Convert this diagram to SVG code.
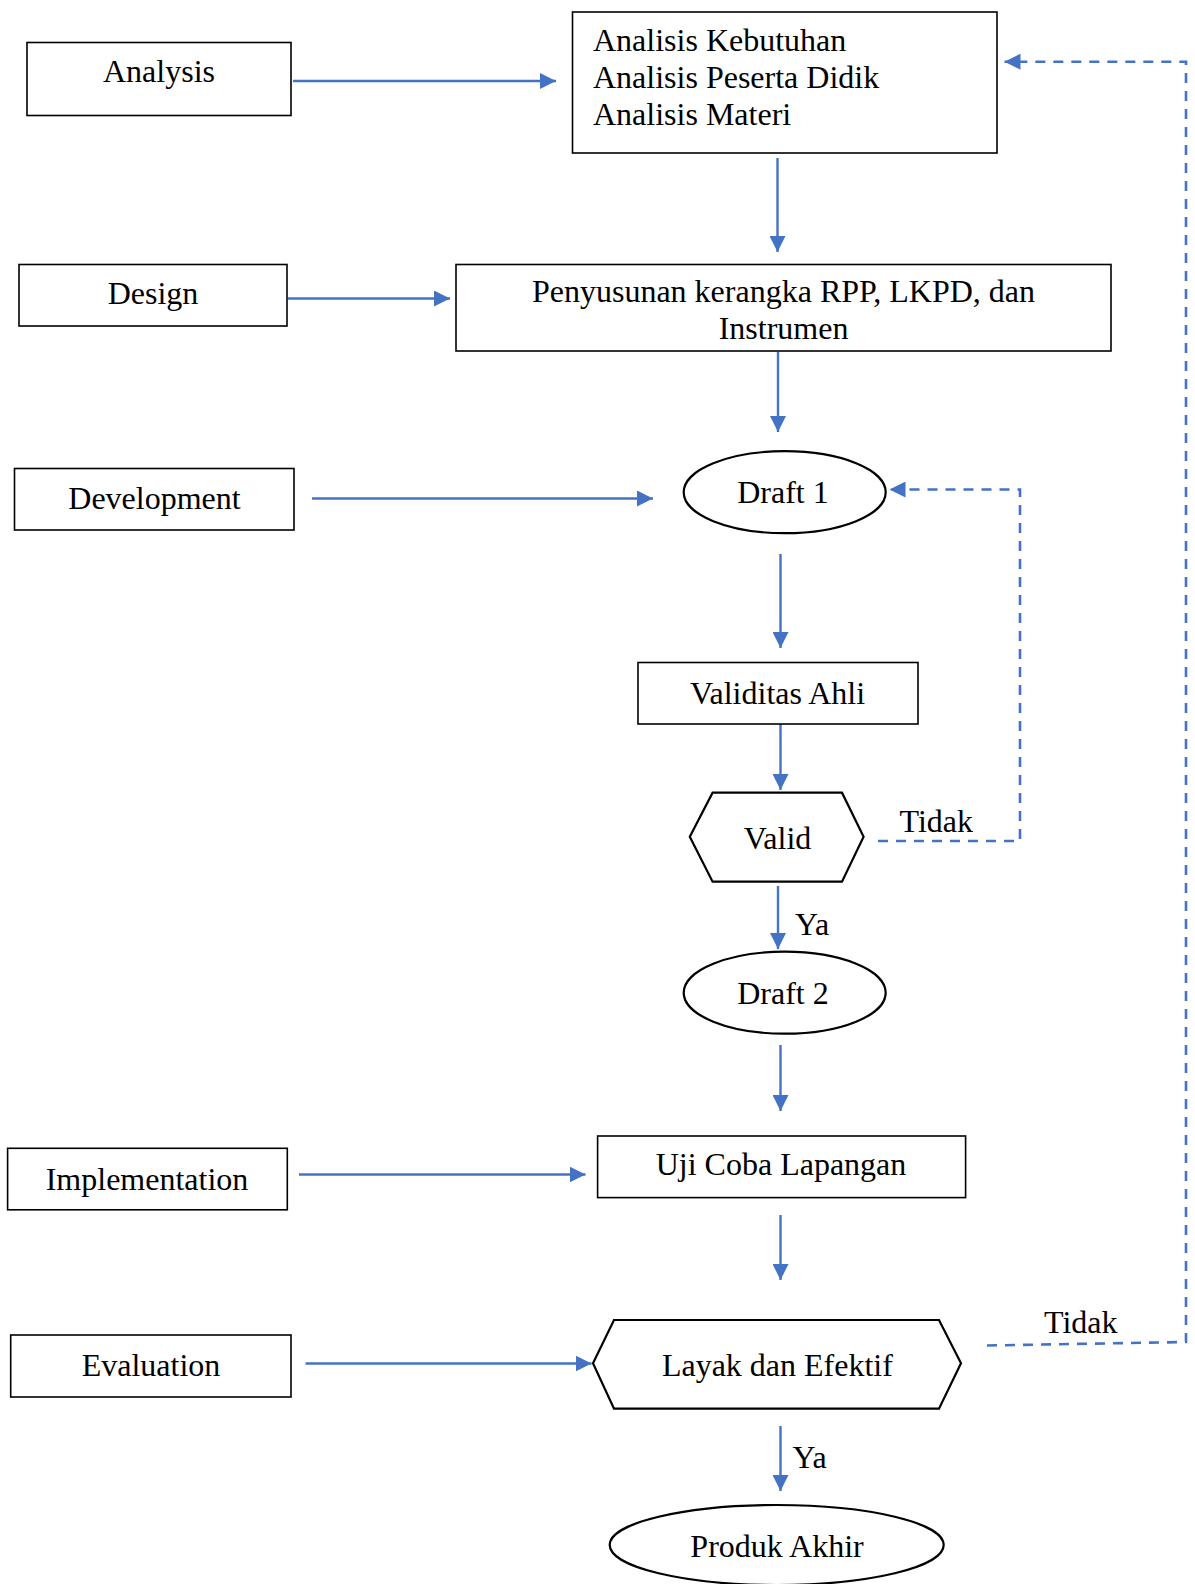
<svg xmlns="http://www.w3.org/2000/svg" width="1195" height="1584" viewBox="0 0 1195 1584">
<style>
.box{fill:#fff;stroke:#000;stroke-width:1.6}
.shape{fill:#fff;stroke:#000;stroke-width:2.2}
.t{font-family:"Liberation Serif","Times New Roman",serif;font-size:32px;fill:#000}
.c{text-anchor:middle}
.con{fill:none;stroke:#4472C4;stroke-width:2.4}
.dash{fill:none;stroke:#4472C4;stroke-width:2.6;stroke-dasharray:10,8}
</style>
<defs>
<marker id="ah" viewBox="0 0 16 16" refX="16" refY="8" markerWidth="16" markerHeight="16" markerUnits="userSpaceOnUse" orient="auto">
<path d="M0,0 L16,8 L0,16 z" fill="#4472C4"/>
</marker>
</defs>
<rect width="1195" height="1584" fill="#fff"/>
<g id="connectors">
<path class="con" d="M293,81 H556" marker-end="url(#ah)"/>
<path class="con" d="M777.5,158 V252" marker-end="url(#ah)"/>
<path class="con" d="M288,298.5 H450" marker-end="url(#ah)"/>
<path class="con" d="M778,352 V432" marker-end="url(#ah)"/>
<path class="con" d="M312,498.5 H653" marker-end="url(#ah)"/>
<path class="con" d="M780.5,554 V648" marker-end="url(#ah)"/>
<path class="con" d="M780.5,724 V790" marker-end="url(#ah)"/>
<path class="con" d="M778,886 V949" marker-end="url(#ah)"/>
<path class="con" d="M780.5,1045 V1111" marker-end="url(#ah)"/>
<path class="con" d="M299,1174.5 H585.5" marker-end="url(#ah)"/>
<path class="con" d="M780.5,1215 V1280" marker-end="url(#ah)"/>
<path class="con" d="M305.5,1363.5 H591.5" marker-end="url(#ah)"/>
<path class="con" d="M780.5,1426 V1491" marker-end="url(#ah)"/>
<path class="dash" d="M878,841 H1020 V489.5 H889.5" marker-end="url(#ah)"/>
<path class="dash" d="M987,1345.5 L1186,1342 V61.7 H1004.5" marker-end="url(#ah)"/>
<text class="t" x="899.5" y="832">Tidak</text>
<text class="t" x="795" y="935">Ya</text>
<text class="t" x="1044" y="1333">Tidak</text>
<text class="t" x="792.5" y="1468">Ya</text>
</g>
<g id="analysis"><rect class="box" x="27" y="42.5" width="264" height="73"/><text class="t c" x="159" y="82">Analysis</text></g>
<g id="analisis-kebutuhan"><rect class="box" x="572.5" y="12" width="424.5" height="141"/>
<text class="t" x="593" y="51">Analisis Kebutuhan</text>
<text class="t" x="593" y="88">Analisis Peserta Didik</text>
<text class="t" x="593" y="125">Analisis Materi</text></g>
<g id="design"><rect class="box" x="19" y="264.5" width="268" height="61.5"/><text class="t c" x="153" y="304">Design</text></g>
<g id="penyusunan"><rect class="box" x="456" y="264.5" width="655" height="86.5"/>
<text class="t c" x="783.5" y="302">Penyusunan kerangka RPP, LKPD, dan</text>
<text class="t c" x="783.5" y="338.5">Instrumen</text></g>
<g id="development"><rect class="box" x="14.5" y="468.5" width="279.5" height="61.5"/><text class="t c" x="154.5" y="508.5">Development</text></g>
<g id="draft1"><ellipse class="shape" cx="784.7" cy="492.2" rx="101" ry="41"/><text class="t c" x="783" y="503">Draft 1</text></g>
<g id="validitas"><rect class="box" x="638" y="662.5" width="280" height="61.5"/><text class="t c" x="777.5" y="703.5">Validitas Ahli</text></g>
<g id="valid"><polygon class="shape" points="712.6,792.7 842,792.7 863.6,836.7 842,881.7 712.6,881.7 689.8,836.7"/><text class="t c" x="777.5" y="848.5">Valid</text></g>
<g id="draft2"><ellipse class="shape" cx="784.7" cy="992.7" rx="101" ry="41"/><text class="t c" x="783" y="1003.5">Draft 2</text></g>
<g id="implementation"><rect class="box" x="7.6" y="1148.3" width="279.7" height="61.5"/><text class="t c" x="147" y="1190">Implementation</text></g>
<g id="uji-coba"><rect class="box" x="597.6" y="1136" width="368" height="61.6"/><text class="t c" x="781" y="1175">Uji Coba Lapangan</text></g>
<g id="evaluation"><rect class="box" x="10.7" y="1335" width="280.3" height="62"/><text class="t c" x="151" y="1375.6">Evaluation</text></g>
<g id="layak"><polygon class="shape" points="614,1320 939,1320 961,1363.3 939,1408.7 614,1408.7 593,1363.3"/><text class="t c" x="777.4" y="1375.6">Layak dan Efektif</text></g>
<g id="produk"><ellipse class="shape" cx="776.7" cy="1545" rx="167" ry="40"/><text class="t c" x="777" y="1556.6">Produk Akhir</text></g>
</svg>
